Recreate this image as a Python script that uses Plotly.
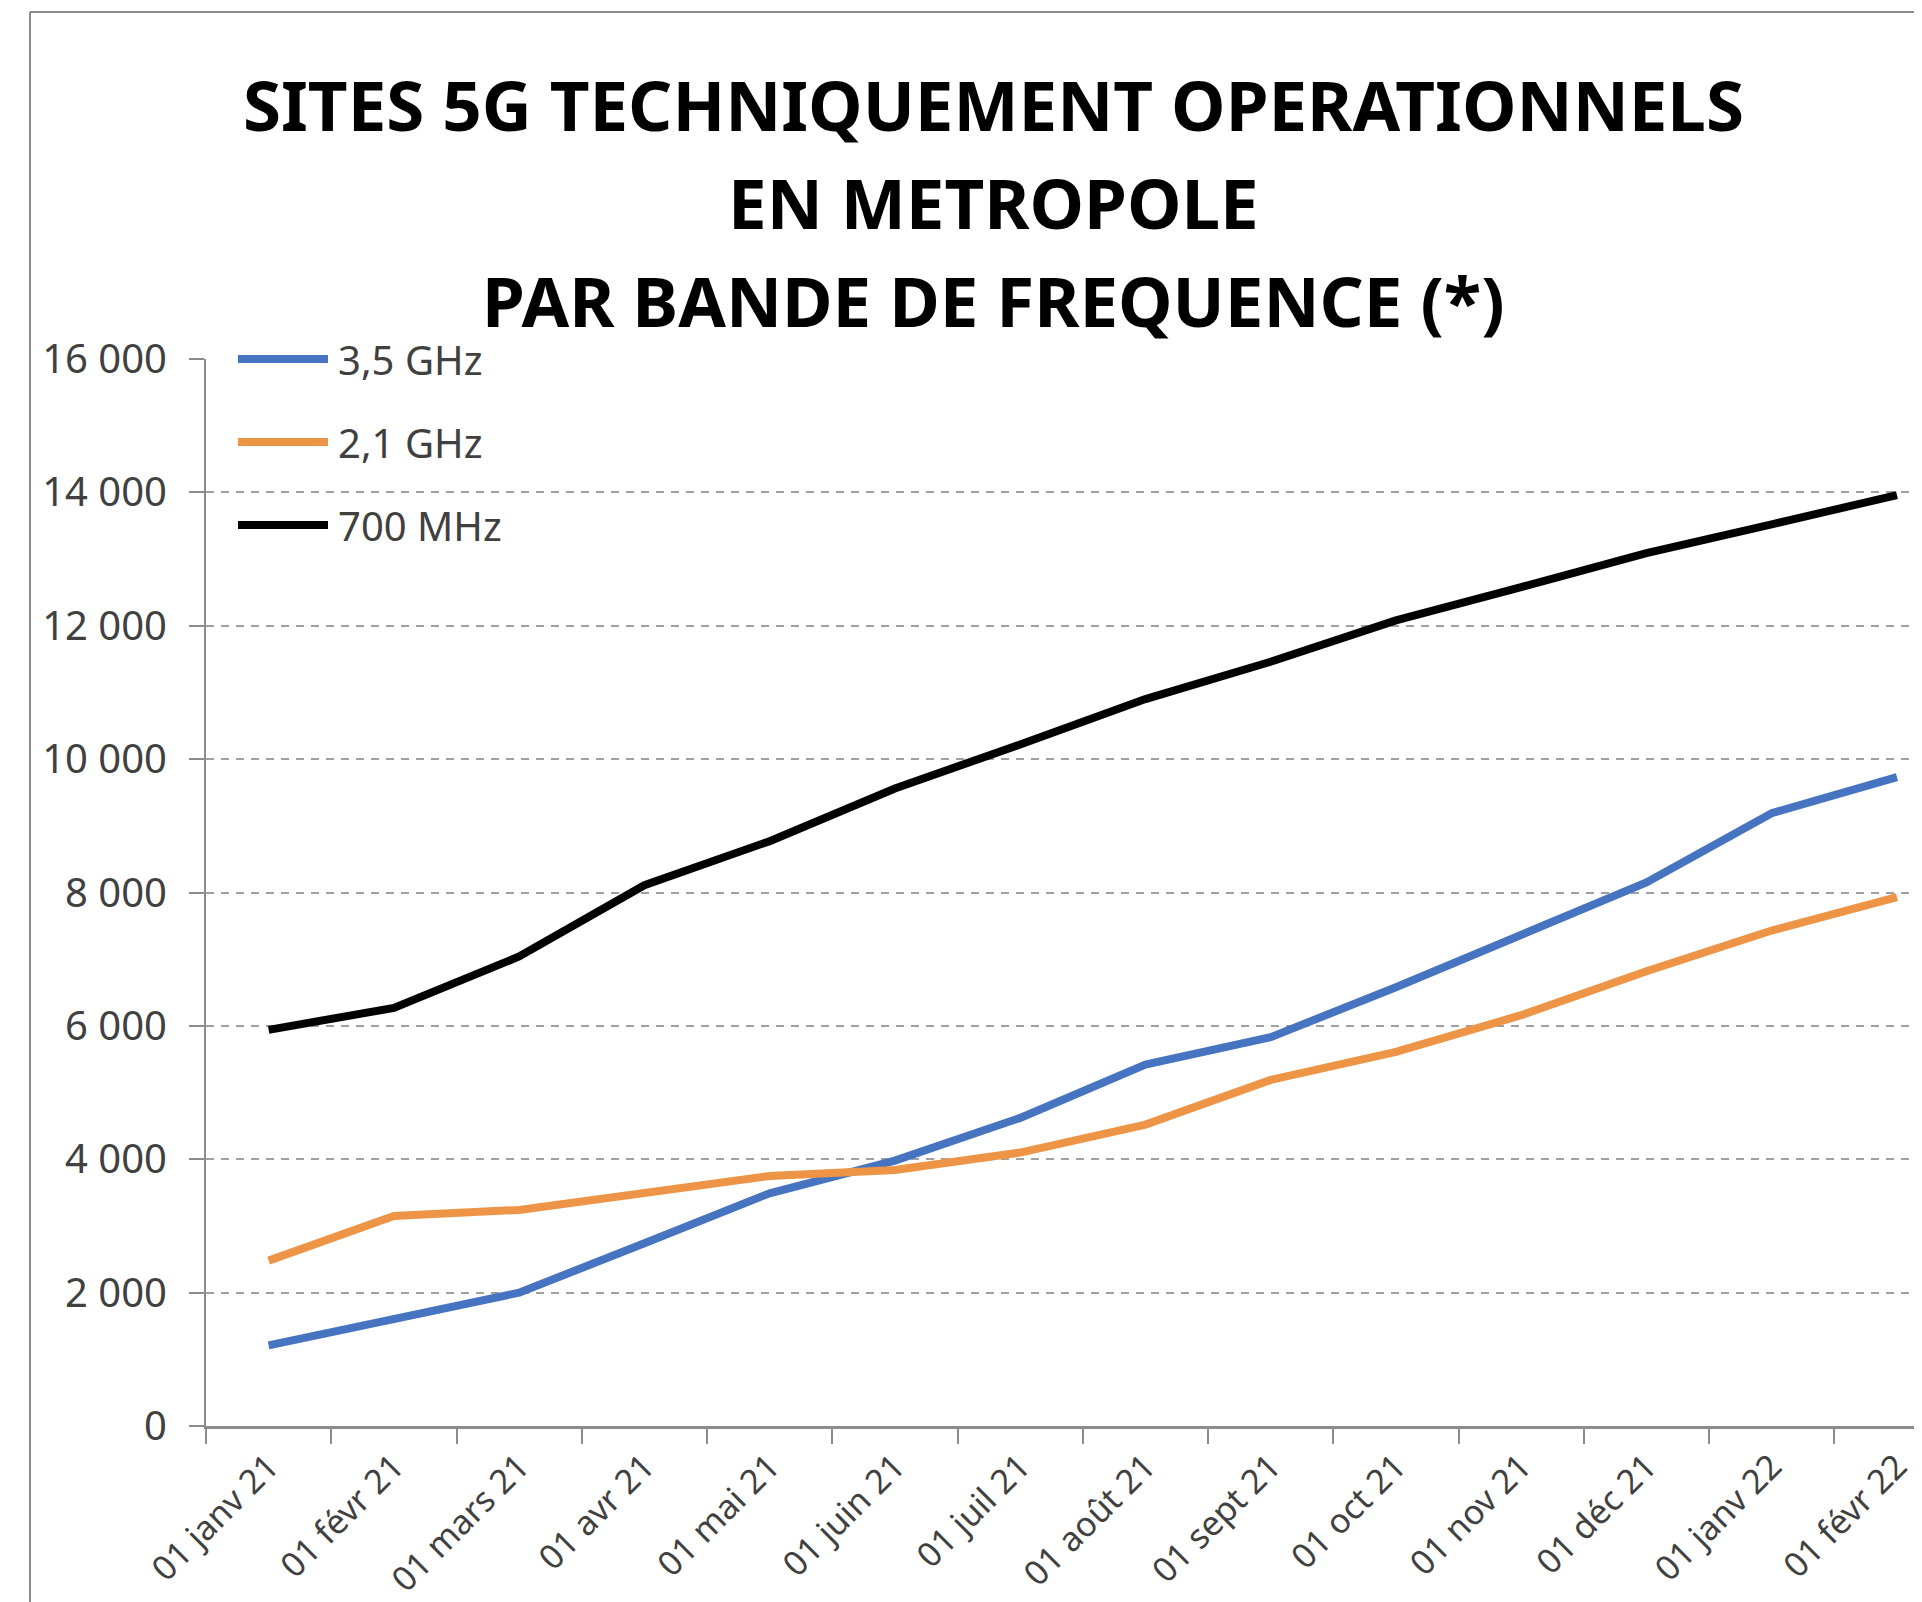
import plotly.graph_objects as go

# Données
mois = [
    "01 janv 21", "01 févr 21", "01 mars 21", "01 avr 21", "01 mai 21",
    "01 juin 21", "01 juil 21", "01 août 21", "01 sept 21", "01 oct 21",
    "01 nov 21", "01 déc 21", "01 janv 22", "01 févr 22",
]
sites_3_5ghz = [1210, 1620, 2000, 2740, 3490, 3980, 4620, 5420, 5830, 6580, 7370, 8150, 9190, 9730]
sites_2_1ghz = [2480, 3150, 3240, 3490, 3750, 3840, 4100, 4520, 5190, 5610, 6160, 6820, 7430, 7930]
sites_700mhz = [5940, 6270, 7040, 8110, 8770, 9560, 10220, 10900, 11460, 12080, 12580, 13090, 13520, 13960]

series = [
    ("3,5 GHz", sites_3_5ghz, "#4674C0"),
    ("2,1 GHz", sites_2_1ghz, "#EE9446"),
    ("700 MHz", sites_700mhz, "#000000"),
]
y_ticks = [0, 2000, 4000, 6000, 8000, 10000, 12000, 14000, 16000]

# la page ajoute une marge de 8 px autour de la figure
OFFSET = 8
W, H = 1922 - OFFSET, 1602 - OFFSET
LEFT, TOP, BOTTOM = 206 - OFFSET, 359 - OFFSET, 1602 - 1426
plot_w = W - LEFT
plot_h = H - TOP - BOTTOM
FONT = "Noto Sans, Open Sans, sans-serif"


def px_x(x):
    # x en pixels de la capture -> coordonnées papier
    return (x - OFFSET - LEFT) / plot_w


def px_y(y):
    return (H - BOTTOM - (y - OFFSET)) / plot_h


fig = go.Figure()
for name, values, color in series:
    fig.add_trace(
        go.Scatter(
            x=mois,
            y=values,
            mode="lines",
            name=name,
            line=dict(color=color, width=8),
            showlegend=False,
        )
    )

fig.update_layout(
    width=W,
    height=H,
    margin=dict(l=LEFT, r=0, t=TOP, b=BOTTOM),
    paper_bgcolor="white",
    plot_bgcolor="white",
    separators=", ",
    font=dict(family=FONT, color="#404040"),
)

fig.update_xaxes(
    type="category",
    range=[-0.5, 13.2],
    tickson="boundaries",
    ticks="outside",
    ticklen=15,
    tickwidth=2,
    tickcolor="#8C8C8C",
    tickangle=-45,
    tickfont=dict(size=34, color="#404040"),
    ticklabelstandoff=4,
    showline=True,
    linecolor="#8C8C8C",
    linewidth=3,
    showgrid=False,
    zeroline=False,
)
fig.update_yaxes(
    range=[0, 16000],
    tickvals=y_ticks,
    tickformat=",d",
    ticks="outside",
    ticklen=15,
    tickwidth=2,
    tickcolor="#8C8C8C",
    tickfont=dict(size=40, color="#404040"),
    ticklabelstandoff=14,
    showline=True,
    linecolor="#8C8C8C",
    linewidth=2,
    showgrid=True,
    gridcolor="#A0A0A0",
    gridwidth=2,
    griddash="8px,7px",
    zeroline=False,
)

# titre sur trois lignes
title_lines = [
    ("SITES 5G TECHNIQUEMENT OPERATIONNELS", 104),
    ("EN METROPOLE", 202),
    ("PAR BANDE DE FREQUENCE (*)", 300),
]
for text, y in title_lines:
    fig.add_annotation(
        x=px_x(993), y=px_y(y), xref="paper", yref="paper",
        text=f"<b>{text}</b>", showarrow=False,
        xanchor="center", yanchor="middle",
        font=dict(family=FONT, size=69, color="#000000"),
    )

# légende
legend_rows = [359, 442, 525]
for (name, values, color), y in zip(series, legend_rows):
    fig.add_shape(
        type="line", xref="paper", yref="paper",
        x0=px_x(238), x1=px_x(328), y0=px_y(y), y1=px_y(y),
        line=dict(color=color, width=8),
    )
    fig.add_annotation(
        x=px_x(336), y=px_y(y), xref="paper", yref="paper",
        text=name, showarrow=False, xanchor="left", yanchor="middle",
        font=dict(family=FONT, size=40, color="#404040"),
    )

# cadre du graphique (bords gauche et haut)
fig.add_shape(
    type="line", xref="paper", yref="paper",
    x0=px_x(30), x1=px_x(30), y0=px_y(12), y1=px_y(1602),
    line=dict(color="#8C8C8C", width=2),
)
fig.add_shape(
    type="line", xref="paper", yref="paper",
    x0=px_x(30), x1=px_x(1922), y0=px_y(12), y1=px_y(12),
    line=dict(color="#8C8C8C", width=2),
)

fig.write_html("out.html")
